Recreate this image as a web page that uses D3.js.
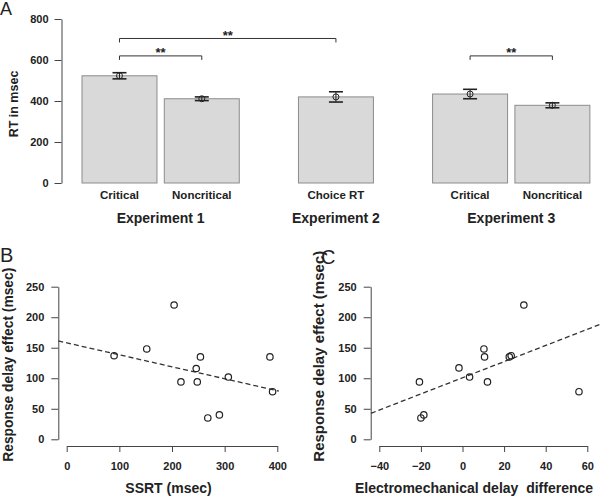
<!DOCTYPE html>
<html>
<head>
<meta charset="utf-8">
<script src="https://cdn.jsdelivr.net/npm/d3@7"></script>
<style>
  body { margin: 0; background: #fff; }
  svg { display: block; font-family: "Liberation Sans", Arial, sans-serif; }
</style>
</head>
<body>
<svg id="chart" width="600" height="497"></svg>
<script>
// Panel A: mean RT per condition (msec), with error bars.
const conditions = ['Critical', 'Noncritical', 'Choice RT', 'Critical', 'Noncritical'];
const experiments = ['Experiment 1', 'Experiment 1', 'Experiment 2', 'Experiment 3', 'Experiment 3'];
const rtMeans = [523, 411, 420, 434, 379];
const rtErrors = [15, 9, 25, 23, 12];
const rtTicks = [0, 200, 400, 600, 800];

// Significance brackets: bar index pairs and bracket height (msec).
const sigFrom = [0, 0, 3];
const sigTo = [1, 2, 4];
const sigLevel = [620, 705, 620];
const sigLabel = ['**', '**', '**'];

// Panel B: SSRT vs response delay effect.
const ssrt = [90, 152, 204, 217, 246, 254, 248, 268, 290, 307, 386, 391];
const delayEffectB = [137, 148, 220, 94, 116, 135, 94, 35, 40, 102, 135, 78];
const ssrtFit = [158, -0.196]; // intercept, slope
const ssrtTicks = [0, 100, 200, 300, 400];

// Panel C: electromechanical delay difference vs response delay effect.
const emdDiff = [-20.7, -20, -18.6, -1.7, 3.4, 10.3, 10.6, 12, 22.5, 23.4, 29.5, 56];
const delayEffectC = [94, 35, 40, 117, 102, 148, 135, 94, 135, 137, 220, 78];
const emdFit = [100.8, 1.323];
const emdTicks = [-40, -20, 0, 20, 40, 60];

const effectTicks = [0, 50, 100, 150, 200, 250];

const INK = '#222';
const AXIS = '#444';
const svg = d3.select('#chart');

// Style a d3 axis group the way the R figure looks (bold small ticks, grey lines).
function styleAxis(g) {
  g.selectAll('path, line').attr('stroke', AXIS).attr('stroke-width', 1);
  g.selectAll('text')
    .attr('fill', INK)
    .style('font-size', '11px')
    .style('font-weight', 'bold')
    .style('font-family', '"Liberation Sans", Arial, sans-serif');
}

// ---------- Panel A ----------
const yA = d3.scaleLinear().domain([0, 800]).range([183, 19]);
const groups = [...new Set(experiments)];
const GROUP_GAP = 0.63; // extra slot space between experiments
const slot = conditions.map((c, i) => i + groups.indexOf(experiments[i]) * GROUP_GAP);
const xA = d3.scaleLinear().domain([0, 1]).range([82, 164.3]);
const barW = xA(0.911) - xA(0);
const barCx = (i) => xA(slot[i]) + barW / 2;

svg.append('g')
  .attr('transform', 'translate(61.5,0)')
  .call(d3.axisLeft(yA).tickValues(rtTicks).tickSize(7).tickSizeOuter(0).tickPadding(6))
  .call(styleAxis);

svg.append('g')
  .selectAll('rect')
  .data(rtMeans)
  .join('rect')
  .attr('x', (d, i) => xA(slot[i]))
  .attr('y', (d) => yA(d))
  .attr('width', barW)
  .attr('height', (d) => yA(0) - yA(d))
  .attr('fill', '#d9d9d9')
  .attr('stroke', '#8c8c8c')
  .attr('stroke-width', 1);

// Error bars with a small hollow mean marker.
const err = svg.append('g').attr('stroke', INK).attr('fill', 'none');
rtMeans.forEach((m, i) => {
  const cx = barCx(i);
  const y0 = yA(m - rtErrors[i]);
  const y1 = yA(m + rtErrors[i]);
  err.append('line').attr('x1', cx).attr('x2', cx).attr('y1', y0).attr('y2', y1).attr('stroke-width', 1);
  [y0, y1].forEach((y) => {
    err.append('line').attr('x1', cx - 7).attr('x2', cx + 7).attr('y1', y).attr('y2', y).attr('stroke-width', 1.6);
  });
  err.append('circle').attr('cx', cx).attr('cy', yA(m)).attr('r', 3).attr('stroke-width', 1);
});

// Significance brackets.
const sig = svg.append('g');
sigFrom.forEach((a, k) => {
  const x1 = barCx(a);
  const x2 = barCx(sigTo[k]);
  const y = yA(sigLevel[k]);
  sig.append('path')
    .attr('d', `M${x1},${y + 4}V${y}H${x2}V${y + 4}`)
    .attr('fill', 'none')
    .attr('stroke', '#333')
    .attr('stroke-width', 1);
  sig.append('text')
    .attr('x', (x1 + x2) / 2)
    .attr('y', y + 1.5)
    .attr('text-anchor', 'middle')
    .attr('fill', INK)
    .style('font-size', '13px')
    .style('font-weight', 'bold')
    .text(sigLabel[k]);
});

// Condition and experiment labels.
svg.append('g')
  .selectAll('text')
  .data(conditions)
  .join('text')
  .attr('x', (d, i) => barCx(i))
  .attr('y', 199)
  .attr('text-anchor', 'middle')
  .attr('fill', INK)
  .style('font-size', '11.5px')
  .style('font-weight', 'bold')
  .text((d) => d);

svg.append('g')
  .selectAll('text')
  .data(groups)
  .join('text')
  .attr('x', (g) => d3.mean(conditions.map((c, i) => i).filter((i) => experiments[i] === g), barCx))
  .attr('y', 223)
  .attr('text-anchor', 'middle')
  .attr('fill', INK)
  .style('font-size', '14px')
  .style('font-weight', 'bold')
  .text((d) => d);

svg.append('text')
  .attr('transform', 'translate(18,104) rotate(-90)')
  .attr('text-anchor', 'middle')
  .attr('fill', INK)
  .style('font-size', '12.5px')
  .style('font-weight', 'bold')
  .text('RT in msec');

svg.append('text').attr('x', 0).attr('y', 15).attr('fill', INK)
  .style('font-size', '18px').text('A');

// ---------- Panels B and C ----------
function scatter(o) {
  const x = d3.scaleLinear().domain(d3.extent(o.xTicks)).range(o.xRange);
  const y = d3.scaleLinear().domain([0, 250]).range([439.3, 286.7]);
  const g = svg.append('g');

  g.append('g')
    .attr('transform', `translate(${o.yAxisX},0)`)
    .call(d3.axisLeft(y).tickValues(effectTicks).tickSize(7).tickSizeOuter(0).tickPadding(7))
    .call(styleAxis);

  g.append('g')
    .attr('transform', 'translate(0,446)')
    .call(d3.axisBottom(x).tickValues(o.xTicks).tickSize(6).tickSizeOuter(0).tickPadding(10))
    .call(styleAxis);

  // Fitted regression line, clipped to the plot region.
  const [b0, b1] = o.fit;
  g.append('line')
    .attr('x1', x(o.xLim[0])).attr('y1', y(b0 + b1 * o.xLim[0]))
    .attr('x2', x(o.xLim[1])).attr('y2', y(b0 + b1 * o.xLim[1]))
    .attr('stroke', '#333')
    .attr('stroke-width', 1.3)
    .attr('stroke-dasharray', '5,3');

  g.append('g')
    .selectAll('circle')
    .data(o.xs)
    .join('circle')
    .attr('cx', (d) => x(d))
    .attr('cy', (d, i) => y(o.ys[i]))
    .attr('r', 3.2)
    .attr('fill', 'none')
    .attr('stroke', INK)
    .attr('stroke-width', 1.2);

  g.append('text')
    .attr('x', o.xLabelX).attr('y', 493)
    .attr('text-anchor', 'middle')
    .attr('fill', INK)
    .style('font-size', '14px')
    .style('font-weight', 'bold')
    .style('white-space', 'pre')
    .text(o.xLabel);

  g.append('text')
    .attr('transform', `translate(${o.yLabelX},461.7) rotate(-90)`)
    .attr('fill', INK)
    .style('font-size', o.yLabelSize)
    .style('font-weight', 'bold')
    .text('Response delay effect (msec)');

  g.append('text')
    .attr('x', o.letterX).attr('y', o.letterY)
    .attr('fill', INK)
    .style('font-size', '20px')
    .text(o.letter);
}

scatter({
  xs: ssrt, ys: delayEffectB, fit: ssrtFit, xTicks: ssrtTicks,
  xRange: [66.7, 277.3], xLim: [-16, 403], yAxisX: 58.3,
  xLabel: 'SSRT (msec)', xLabelX: 168.5,
  yLabelX: 12.5, yLabelSize: '13.8px', letter: 'B', letterX: 0, letterY: 262,
});

scatter({
  xs: emdDiff, ys: delayEffectC, fit: emdFit, xTicks: emdTicks,
  xRange: [379.3, 587.3], xLim: [-44, 66.5], yAxisX: 370.7,
  xLabel: 'Electromechanical delay  difference', xLabelX: 474,
  yLabelX: 324, yLabelSize: '15px', letter: 'C', letterX: 321, letterY: 264,
});
</script>
</body>
</html>
